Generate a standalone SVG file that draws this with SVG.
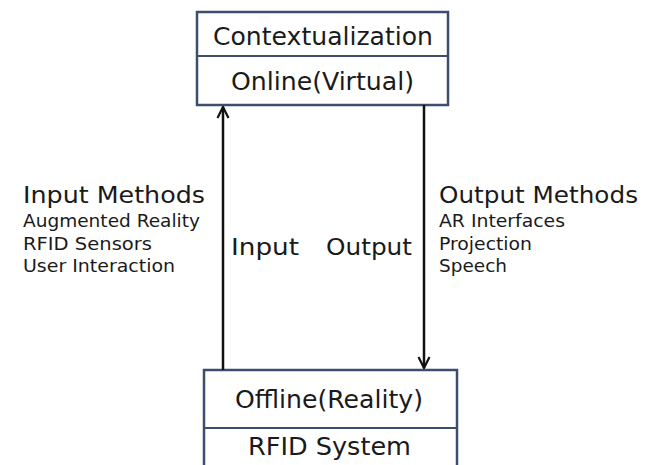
<svg xmlns="http://www.w3.org/2000/svg" width="650" height="465" viewBox="0 0 650 465">
<style>
.box{fill:#fff;stroke:#3d4d6e;stroke-width:2.5}
.div{stroke:#3d4d6e;stroke-width:2}
.t{font-family:"DejaVu Sans",Verdana,sans-serif;fill:#1a1a1a}
.big{font-size:25px}
.mid{font-size:23px}
.sm{font-size:18px}
.conn{stroke:#111;stroke-width:2.5;fill:none}
</style>
<defs>
<marker id="ah" viewBox="0 0 10 10" refX="9" refY="5" markerWidth="5.5" markerHeight="5.5" orient="auto" markerUnits="strokeWidth">
<path d="M1,1 L9,5 L1,9" fill="none" stroke="#111" stroke-width="1.6"/>
</marker>
</defs>
<rect width="650" height="465" fill="#fff"/>
<g id="top-node">
<rect class="box" x="197" y="12" width="251" height="93"/>
<line class="div" x1="197" y1="56" x2="448" y2="56"/>
<text class="t big" x="213" y="45" textLength="220" lengthAdjust="spacingAndGlyphs">Contextualization</text>
<text class="t big" x="231" y="90" textLength="183" lengthAdjust="spacingAndGlyphs">Online(Virtual)</text>
</g>
<g id="bottom-node">
<rect class="box" x="204" y="370" width="253" height="100"/>
<line class="div" x1="204" y1="428" x2="457" y2="428"/>
<text class="t big" x="235" y="408" textLength="188" lengthAdjust="spacingAndGlyphs">Offline(Reality)</text>
<text class="t big" x="248" y="455" textLength="163" lengthAdjust="spacingAndGlyphs">RFID System</text>
</g>
<g id="connectors">
<line class="conn" x1="223" y1="370" x2="223" y2="107" marker-end="url(#ah)"/>
<line class="conn" x1="424" y1="105" x2="424" y2="368" marker-end="url(#ah)"/>
</g>
<g id="labels">
<text class="t mid" x="231" y="255" textLength="68" lengthAdjust="spacingAndGlyphs">Input</text>
<text class="t mid" x="326" y="255" textLength="86" lengthAdjust="spacingAndGlyphs">Output</text>
<text class="t mid" x="23" y="203" textLength="182" lengthAdjust="spacingAndGlyphs">Input Methods</text>
<text class="t sm" x="23" y="227" textLength="177" lengthAdjust="spacingAndGlyphs">Augmented Reality</text>
<text class="t sm" x="23" y="250" textLength="129" lengthAdjust="spacingAndGlyphs">RFID Sensors</text>
<text class="t sm" x="23" y="272" textLength="152" lengthAdjust="spacingAndGlyphs">User Interaction</text>
<text class="t mid" x="439" y="203" textLength="199" lengthAdjust="spacingAndGlyphs">Output Methods</text>
<text class="t sm" x="439" y="227" textLength="126" lengthAdjust="spacingAndGlyphs">AR Interfaces</text>
<text class="t sm" x="439" y="250" textLength="93" lengthAdjust="spacingAndGlyphs">Projection</text>
<text class="t sm" x="439" y="272" textLength="68" lengthAdjust="spacingAndGlyphs">Speech</text>
</g>
</svg>
